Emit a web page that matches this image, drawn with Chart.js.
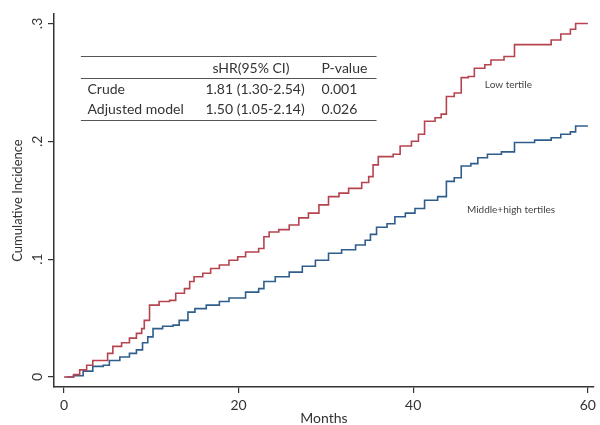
<!DOCTYPE html>
<html>
<head>
<meta charset="utf-8">
<script src="https://cdn.jsdelivr.net/npm/chart.js@4.4.1/dist/chart.umd.min.js"></script>
<style>
  html, body { margin: 0; padding: 0; background: #fff; }
</style>
</head>
<body>
<canvas id="ci-chart" width="600" height="425"></canvas>
<script>
// Step times (months) and the cumulative incidence reached at each step
const lowMonths = [0, 1.1, 1.8, 2.6, 3.3, 5.0, 5.6, 6.6, 7.5, 8.3, 8.9, 9.2, 9.8, 10.9, 12.1, 12.8,
    13.8, 14.4, 14.9, 15.9, 16.8, 17.8, 18.9, 19.9, 20.8, 22.3, 22.9, 23.5, 24.6, 25.8, 26.9, 28.0,
    29.2, 30.3, 31.5, 32.6, 34.1, 34.9, 35.4, 36.0, 37.7, 38.5, 39.8, 40.6, 41.3, 42.5, 43.2, 43.8,
    44.7, 45.5, 46.3, 47.0, 48.2, 48.9, 50.4, 51.6, 55.8, 56.9, 58.0, 58.6, 60.0];
const lowValues = [0, .002, .006, .010, .014, .020, .026, .029, .033, .037, .041, .048, .061, .064, .065, .071,
    .075, .081, .085, .088, .092, .095, .099, .102, .106, .109, .119, .123, .125, .129, .135, .139,
    .146, .153, .156, .160, .165, .170, .180, .187, .189, .196, .200, .206, .217, .220, .223, .238,
    .241, .254, .255, .262, .265, .269, .272, .282, .286, .291, .295, .300, .300];

const midHighMonths = [0.3, 1.1, 2.2, 3.3, 4.5, 5.2, 6.4, 7.5, 8.3, 9.0, 9.6, 10.2, 11.3, 12.5, 13.2, 14.2,
    15.0, 16.3, 17.8, 18.9, 20.8, 22.3, 22.9, 24.2, 25.8, 27.3, 28.8, 30.3, 31.8, 33.4, 34.5, 35.1,
    35.8, 37.0, 37.9, 39.1, 40.2, 41.3, 42.8, 43.8, 44.7, 45.5, 46.6, 47.4, 48.5, 50.1, 51.6, 53.9,
    55.8, 56.9, 58.0, 58.6, 60.0];
const midHighValues = [0, .001, .005, .009, .010, .014, .017, .020, .023, .029, .034, .041, .043, .044, .048, .055,
    .058, .061, .064, .067, .072, .075, .081, .085, .089, .094, .099, .105, .108, .112, .116, .121,
    .127, .130, .136, .139, .143, .150, .153, .166, .169, .179, .181, .186, .189, .191, .199, .201,
    .203, .206, .208, .213, .213];

const seriesNames = ['Low tertile', 'Middle+high tertiles'];

const xTicks = [0, 20, 40, 60];
const yTicks = [0, 0.1, 0.2, 0.3];
const yTickLabels = ['0', '.1', '.2', '.3'];

// Hazard ratio table shown in the top left
const tableHeader = ['', 'sHR(95% CI)', 'P-value'];
const tableCrude = ['Crude', '1.81 (1.30-2.54)', '0.001'];
const tableAdjusted = ['Adjusted model', '1.50 (1.05-2.14)', '0.026'];

const FONT = 'Lato, "Open Sans", sans-serif';
const INK = '#333';

function toPoints(xs, ys) {
    return xs.map((m, i) => ({ x: m, y: ys[i] }));
}

// Draws the table and the curve labels, placed in data units
const annotations = {
    id: 'annotations',
    afterDraw(chart) {
        const ctx = chart.ctx;
        const sx = chart.scales.x;
        const sy = chart.scales.y;
        const px = v => sx.getPixelForValue(v);
        const py = v => sy.getPixelForValue(v);

        ctx.save();
        // table rules
        ctx.strokeStyle = '#555';
        ctx.lineWidth = 1.2;
        [0.2721, 0.2538, 0.2178].forEach(v => {
            ctx.beginPath();
            ctx.moveTo(px(1.94), Math.round(py(v)) + 0.5);
            ctx.lineTo(px(35.8), Math.round(py(v)) + 0.5);
            ctx.stroke();
        });

        ctx.fillStyle = INK;
        ctx.font = '14px ' + FONT;
        ctx.textBaseline = 'middle';
        ctx.textAlign = 'left';
        ctx.fillText(tableHeader[1], px(17.0), py(0.2617));
        ctx.fillText(tableHeader[2], px(29.5), py(0.2617));
        const cols = [2.7, 16.2, 29.5];
        tableCrude.forEach((t, i) => ctx.fillText(t, px(cols[i]), py(0.2438)));
        tableAdjusted.forEach((t, i) => ctx.fillText(t, px(cols[i]), py(0.2268)));

        // curve labels
        ctx.fillStyle = '#444';
        ctx.font = '10px ' + FONT;
        ctx.textAlign = 'center';
        ctx.fillText(seriesNames[0], px(50.9), py(0.248));
        ctx.fillText(seriesNames[1], px(51.2), py(0.142));
        ctx.restore();
    }
};

const ctx = document.getElementById('ci-chart').getContext('2d');
const chart = new Chart(ctx, {
    type: 'line',
    data: {
        datasets: [{
            label: seriesNames[0],
            data: toPoints(lowMonths, lowValues),
            borderColor: '#b5444f',
            borderWidth: 1.6,
            stepped: true,
            pointRadius: 0,
            fill: false
        }, {
            label: seriesNames[1],
            data: toPoints(midHighMonths, midHighValues),
            borderColor: '#2f5d8c',
            borderWidth: 1.6,
            stepped: true,
            pointRadius: 0,
            fill: false
        }]
    },
    options: {
        responsive: false,
        animation: false,
        layout: { padding: { top: 14, right: 3, left: 0, bottom: 0 } },
        plugins: {
            legend: { display: false },
            tooltip: { enabled: false }
        },
        scales: {
            x: {
                type: 'linear',
                min: -1.14,
                max: 60.7,
                afterBuildTicks: scale => { scale.ticks = xTicks.map(v => ({ value: v })); },
                afterFit: scale => { scale.height = 38; },
                border: { display: true, color: INK, width: 1.5 },
                grid: { drawOnChartArea: false, drawTicks: true, tickLength: 6, color: INK, lineWidth: 1.2 },
                ticks: { color: INK, font: { family: FONT, size: 14 }, padding: 4, maxRotation: 0 },
                title: {
                    display: true, text: 'Months', color: INK,
                    font: { family: FONT, size: 14, lineHeight: 1 },
                    padding: { top: 0, bottom: 0 }
                }
            },
            y: {
                type: 'linear',
                min: -0.0085,
                max: 0.308,
                afterBuildTicks: scale => { scale.ticks = yTicks.map(v => ({ value: v })); },
                afterFit: scale => { scale.width = 54; },
                border: { display: true, color: INK, width: 1.5 },
                grid: { drawOnChartArea: false, drawTicks: true, tickLength: 6, color: INK, lineWidth: 1.2 },
                ticks: {
                    color: INK, font: { family: FONT, size: 14 }, padding: 5,
                    minRotation: 90, maxRotation: 90, crossAlign: 'center',
                    callback: v => yTickLabels[yTicks.indexOf(v)]
                },
                title: {
                    display: true, text: 'Cumulative Incidence', color: INK,
                    font: { family: FONT, size: 13 },
                    padding: { top: 10, bottom: 0 }
                }
            }
        }
    },
    plugins: [annotations]
});
</script>
</body>
</html>
